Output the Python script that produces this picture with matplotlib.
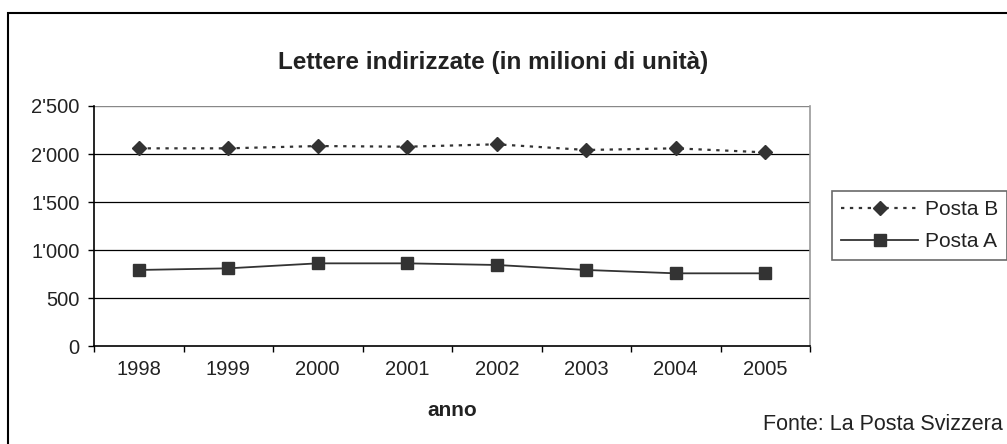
import matplotlib
matplotlib.use("Agg")
import matplotlib.pyplot as plt
from matplotlib.patches import Rectangle
from matplotlib.ticker import FuncFormatter, FixedLocator, NullFormatter
import numpy as np

years = ["1998", "1999", "2000", "2001", "2002", "2003", "2004", "2005"]
posta_b = [2059, 2059, 2083, 2076, 2101, 2042, 2059, 2017]
posta_a = [792, 809, 861, 861, 844, 792, 757, 757]
y_ticks = [0, 500, 1000, 1500, 2000, 2500]

plt.rcParams['font.family'] = ['Liberation Sans', 'DejaVu Sans']
W, H = 1007, 444
fig = plt.figure(figsize=(W / 100, H / 100), dpi=100)
ax = fig.add_axes([94 / W, 1 - 346 / H, (810 - 94) / W, (346 - 106) / H])

dark = '#333333'
x = np.arange(len(years))
lb, = ax.plot(x, posta_b, color=dark, lw=1.6, linestyle=(0, (1.5, 2.5)),
              marker='D', markersize=7, markerfacecolor=dark, markeredgecolor=dark,
              label='Posta B', clip_on=False, zorder=3)
la, = ax.plot(x, posta_a, color=dark, lw=1.3, linestyle='-',
              marker='s', markersize=9, markerfacecolor=dark, markeredgecolor=dark,
              label='Posta A', clip_on=False, zorder=3)

ax.set_xlim(-0.5, len(years) - 0.5)
ax.set_ylim(0, 2500)
ax.set_yticks(y_ticks)
ax.yaxis.set_major_formatter(FuncFormatter(lambda v, p: f"{int(v):,}".replace(",", "'")))
ax.xaxis.set_major_locator(FixedLocator(np.arange(-0.5, len(years), 1.0)))
ax.xaxis.set_major_formatter(NullFormatter())
ax.xaxis.set_minor_locator(FixedLocator(x))
ax.set_xticklabels(years, minor=True)
ax.tick_params(axis='x', which='major', length=4, width=1, color='black', direction='out')
ax.tick_params(axis='x', which='minor', length=0, pad=10, labelsize=14.5, labelcolor='#222222')
ax.tick_params(axis='y', length=4, width=1, color='black', pad=6.5, labelsize=14.5, labelcolor='#222222')

for v in y_ticks[1:-1]:
    ax.axhline(v, color='black', lw=0.9, zorder=1)
ax.axhline(2500, color='#888888', lw=1.0, zorder=1)
ax.spines['top'].set_visible(False)
ax.spines['right'].set_color('#999999')
ax.spines['right'].set_linewidth(1.2)
ax.spines['left'].set_color('black')
ax.spines['bottom'].set_color('black')
ax.spines['left'].set_linewidth(1.2)
ax.spines['bottom'].set_linewidth(1.2)

fig.text(493 / W, 1 - 62 / H, "Lettere indirizzate (in milioni di unità)",
         ha='center', va='center', fontsize=17.5, fontweight='bold', color='#222222')
fig.text(452 / W, 1 - 410 / H, "anno", ha='center', va='center',
         fontsize=15, fontweight='bold', color='#222222')
fig.text(1003 / W, 1 - 424 / H, "Fonte: La Posta Svizzera", ha='right', va='center',
         fontsize=15.5, color='#222222')

leg = fig.legend(handles=[lb, la], loc='upper left', bbox_to_anchor=(832 / W, 1 - 191 / H),
                 frameon=True, fancybox=False, edgecolor='#444444', fontsize=15,
                 handlelength=3.7, handletextpad=0.3, borderpad=0.45, labelspacing=0.6,
                 borderaxespad=0, labelcolor='#222222')
leg.get_frame().set_linewidth(1.2)

fig.patches.append(Rectangle((8 / W, -0.1), 1.2, 1 - 13 / H + 0.1, transform=fig.transFigure,
                             fill=False, edgecolor='black', lw=1.5, clip_on=False))

fig.savefig("out.png", dpi=100)
